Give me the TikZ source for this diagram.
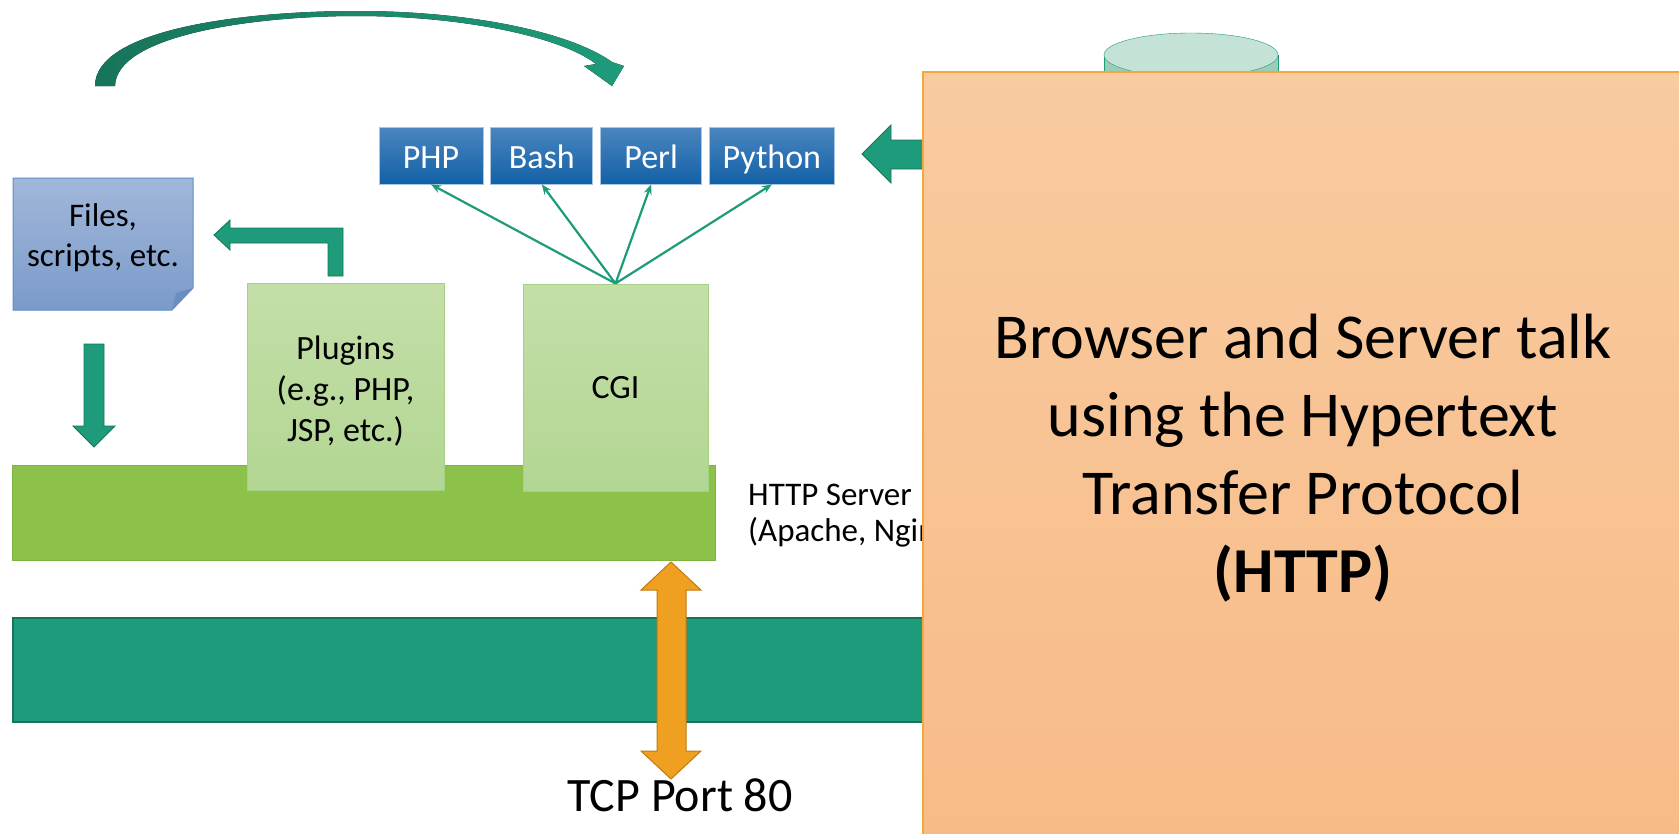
\documentclass[tikz,border=0pt]{standalone}
\usepackage{fontspec}
\setmainfont{Carlito}
\usetikzlibrary{positioning}
\usetikzlibrary{arrows.meta}

\definecolor{tealbar}{HTML}{1E9B7A}
\definecolor{tealdark}{HTML}{17745B}
\definecolor{langtop}{HTML}{4B85BF}
\definecolor{langbot}{HTML}{1261A6}
\definecolor{langline}{HTML}{A9C4E0}
\definecolor{modtop}{HTML}{C4DFA8}
\definecolor{modbot}{HTML}{B2D693}
\definecolor{modline}{HTML}{A6D083}
\definecolor{srvgreen}{HTML}{8CC24A}
\definecolor{srvline}{HTML}{7DB33F}
\definecolor{filetop}{HTML}{A2B7DA}
\definecolor{filebot}{HTML}{7A9BC9}
\definecolor{fileline}{HTML}{5D8DC8}
\definecolor{filefold}{HTML}{6A8EC4}
\definecolor{dbtop}{HTML}{C5E2D6}
\definecolor{dbside}{HTML}{9BCDB8}
\definecolor{portfill}{HTML}{F0A020}
\definecolor{portline}{HTML}{C07A10}
\definecolor{notetop}{HTML}{F8CBA0}
\definecolor{notebot}{HTML}{F8BB87}
\definecolor{noteline}{HTML}{F2A83A}

\begin{document}
\begin{tikzpicture}[x=1pt, y=-1pt, >={Stealth[length=10pt, width=8pt]},
        lang/.style={draw=langline, line width=0.8pt, top color=langtop,
            bottom color=langbot, text=white, minimum height=57pt,
            text height=30pt, text depth=5pt,
            inner sep=0pt, font=\fontsize{34}{40}\selectfont},
        module/.style={draw=modline, line width=1pt, top color=modtop,
            bottom color=modbot, align=center, minimum height=207pt,
            inner sep=0pt, font=\fontsize{34}{42}\selectfont},
        callarrow/.style={->, draw=tealbar, line width=2.2pt},
        blockarrow/.style={fill=tealbar, draw=tealdark, line width=0.8pt}]
    \useasboundingbox (0,0) rectangle (1679,833);

    % curved arrow over the top
    \fill[left color=tealdark, right color=tealbar]
        (95,86) .. controls (95,30) and (240,11) .. (357,11)
        .. controls (470,11) and (570,32) .. (612,62)
        -- (624,66) -- (612,86) -- (584,66) -- (596,64)
        .. controls (560,36) and (460,16) .. (357,16)
        .. controls (250,16) and (116,36) .. (115,86) -- cycle;

    \node [lang, minimum width=104pt] (php) at (431,155.5) {PHP};
    \node [lang, minimum width=102pt, right=7pt of php] (bash) {Bash};
    \node [lang, minimum width=101pt, right=7pt of bash] (perl) {Perl};
    \node [lang, minimum width=125pt, right=7pt of perl] (python) {Python};

    % database and arrow into the languages
    \draw[draw=tealbar, fill=dbside] (1104,55) -- (1104,110) -- (1278,110) -- (1278,55);
    \draw[draw=tealbar, fill=dbtop] (1191,55) ellipse [x radius=87, y radius=22];
    \draw[blockarrow] (862,154) -- (891,125) -- (891,140) -- (935,140)
        -- (935,169) -- (891,169) -- (891,183) -- cycle;

    % files
    \draw[draw=fileline, line width=1pt, top color=filetop, bottom color=filebot]
        (13,178) -- (193,178) -- (193,288) -- (172,310) -- (13,310) -- cycle;
    \fill[filefold] (193,288) -- (172,310) -- (176,293) -- cycle;
    \node [align=center, font=\fontsize{33}{40}\selectfont] (files) at (103,238)
        {Files,\\scripts, etc.};
    \draw[blockarrow] (343,276) -- (343,228) -- (230,228) -- (230,220) -- (214,235)
        -- (230,250) -- (230,243) -- (328,243) -- (328,276) -- cycle;
    \draw[blockarrow] (84,344) -- (104,344) -- (104,426) -- (115,426) -- (94,447)
        -- (73,426) -- (84,426) -- cycle;

    % server
    \node [draw=srvline, fill=srvgreen, line width=1pt, minimum width=703pt,
        minimum height=95pt] (server) at (363.5,512.5) {};
    \node [module, minimum width=197pt] (plugins) at (345.5,386.5) {};
    \node [align=center, inner sep=0pt, font=\fontsize{34}{41}\selectfont]
        (pluginstext) at (345.5,391) {Plugins\\(e.g., PHP,\\JSP, etc.)};
    \node [module, minimum width=185pt] (cgi) at (615.5,387.5) {CGI};
    \node [align=left, anchor=west, inner sep=0pt,
        font=\fontsize{33}{36}\selectfont] (srvlabel) at (748,516)
        {HTTP Server\\(Apache, Nginx)};

    \path (cgi.north) edge [callarrow] (php.south);
    \path (cgi.north) edge [callarrow] (bash.south);
    \path (cgi.north) edge [callarrow] (perl.south);
    \path (cgi.north) edge [callarrow] (python.south);

    % network and port
    \draw[draw=tealdark, line width=1.5pt, fill=tealbar] (13,618) rectangle (935,722);
    \draw[fill=portfill, draw=portline, line width=1pt]
        (671,562) -- (701,590) -- (686,590) -- (686,751) -- (701,751) -- (671,779)
        -- (641,751) -- (657,751) -- (657,590) -- (641,590) -- cycle;
    \node [anchor=base, inner sep=0pt, font=\fontsize{48}{52}\selectfont] (port)
        at (680,811) {TCP Port 80};

    \node [draw=noteline, line width=1.5pt, top color=notetop, bottom color=notebot,
        minimum width=760pt, minimum height=773pt, align=center,
        font=\fontsize{64}{78}\selectfont] (note) at (1303,458.5)
        {Browser and Server talk\\using the Hypertext\\Transfer Protocol\\\textbf{(HTTP)}};
\end{tikzpicture}
\end{document}
